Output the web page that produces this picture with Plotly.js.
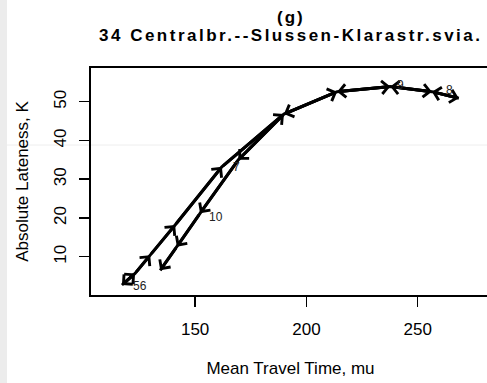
<!DOCTYPE html>
<html>
<head>
<meta charset="utf-8">
<script src="https://cdn.plot.ly/plotly-3.0.1.min.js"></script>
<style>
  html, body { margin: 0; padding: 0; background: #ffffff; overflow: hidden; }
  #strip { position: absolute; left: 0; top: 0; width: 7px; height: 383px; background: #ececec; z-index: 5; }
  #chart { position: absolute; left: 0; top: 0; width: 495px; height: 383px; }
</style>
</head>
<body>
<div id="strip"></div>
<div id="chart"></div>
<script>
// Path of (mean travel time, absolute lateness) points, in drawing order
const mu = [123.0, 117.1, 123.0, 129.8, 141.0, 162.0, 189.9, 213.8, 237.7, 256.4, 268.5,
            256.4, 237.7, 213.8, 189.9, 169.4, 152.2, 141.8, 134.3];
const K  = [5.7, 2.7, 5.7, 10.4, 18.2, 33.2, 46.8, 52.6, 53.9, 52.6, 50.9,
            52.6, 53.9, 52.6, 46.8, 35.0, 21.2, 12.6, 6.5];

// Point labels
const labelText = ["56", "10", "7", "9", "8"];
const labelMu   = [125.1, 159.3, 168.7, 242.4, 264.2];
const labelK    = [2.4, 20.3, 33.1, 54.2, 52.9];

// Axis ticks
const xTicks = [150, 200, 250];
const yTicks = [10, 20, 30, 40, 50];

const titleMain = "34 Centralbr.--Slussen-Klarastr.svia.";
const titlePanel = "(g)";
const xTitle = "Mean Travel Time, mu";
const yTitle = "Absolute Lateness, K";

const FONT = "Liberation Sans, Arial, sans-serif";

const annotations = [];
for (let i = 1; i < mu.length; i++) {
  annotations.push({
    x: mu[i], y: K[i], ax: mu[i - 1], ay: K[i - 1],
    xref: 'x', yref: 'y', axref: 'x', ayref: 'y',
    text: '', showarrow: true,
    arrowhead: 4, arrowsize: 0.85, arrowwidth: 3, arrowcolor: '#000',
    standoff: 0, startstandoff: 0
  });
}
for (let i = 0; i < labelText.length; i++) {
  annotations.push({
    x: labelMu[i], y: labelK[i], xref: 'x', yref: 'y',
    text: labelText[i], showarrow: false,
    font: { family: FONT, size: 12, color: '#222' },
    xanchor: 'center', yanchor: 'middle'
  });
}
annotations.push({
  x: 0.5, y: 1.222, xref: 'paper', yref: 'paper',
  text: '<b><span style="letter-spacing:2px">' + titlePanel + '</span></b>',
  showarrow: false, xanchor: 'center', yanchor: 'middle',
  font: { family: FONT, size: 17, color: '#000' }
});
annotations.push({
  x: 0.5, y: 1.141, xref: 'paper', yref: 'paper',
  text: '<b><span style="letter-spacing:2.5px">' + titleMain + '</span></b>',
  showarrow: false, xanchor: 'center', yanchor: 'middle',
  font: { family: FONT, size: 17, color: '#000' }
});

const trace = {
  x: mu, y: K, type: 'scatter', mode: 'lines',
  line: { color: '#000', width: 3 },
  hoverinfo: 'skip', showlegend: false
};

const axisCommon = {
  showgrid: false, zeroline: false,
  showline: true, linecolor: '#000', linewidth: 2, mirror: true,
  ticks: 'outside', ticklen: 10, tickwidth: 1.5, tickcolor: '#000',
  tickfont: { family: FONT, size: 17, color: '#000' },
  tickmode: 'array'
};

const layout = {
  width: 495, height: 383,
  margin: { l: 91, r: 5, t: 68, b: 88 },
  paper_bgcolor: 'rgba(0,0,0,0)', plot_bgcolor: '#fff',
  showlegend: false,
  xaxis: Object.assign({}, axisCommon, {
    range: [103.2, 282.5], tickvals: xTicks, ticktext: xTicks.map(String),
    ticklabelstandoff: 8,
    title: { text: xTitle, font: { family: FONT, size: 17, color: '#000' }, standoff: 24 }
  }),
  yaxis: Object.assign({}, axisCommon, {
    range: [0.12, 58.7], tickvals: yTicks, ticktext: yTicks.map(String),
    tickangle: -90, ticklabelstandoff: 6,
    title: { text: yTitle, font: { family: FONT, size: 17, color: '#000' }, standoff: 18 }
  }),
  annotations: annotations,
  shapes: [{
    type: 'line', xref: 'paper', yref: 'paper',
    x0: -0.3, x1: 1.2, y0: (295 - 145) / 227, y1: (295 - 145) / 227,
    line: { color: '#eeeeee', width: 1 }, layer: 'below'
  }]
};

Plotly.newPlot('chart', [trace], layout, { displayModeBar: false, staticPlot: true });
</script>
</body>
</html>
